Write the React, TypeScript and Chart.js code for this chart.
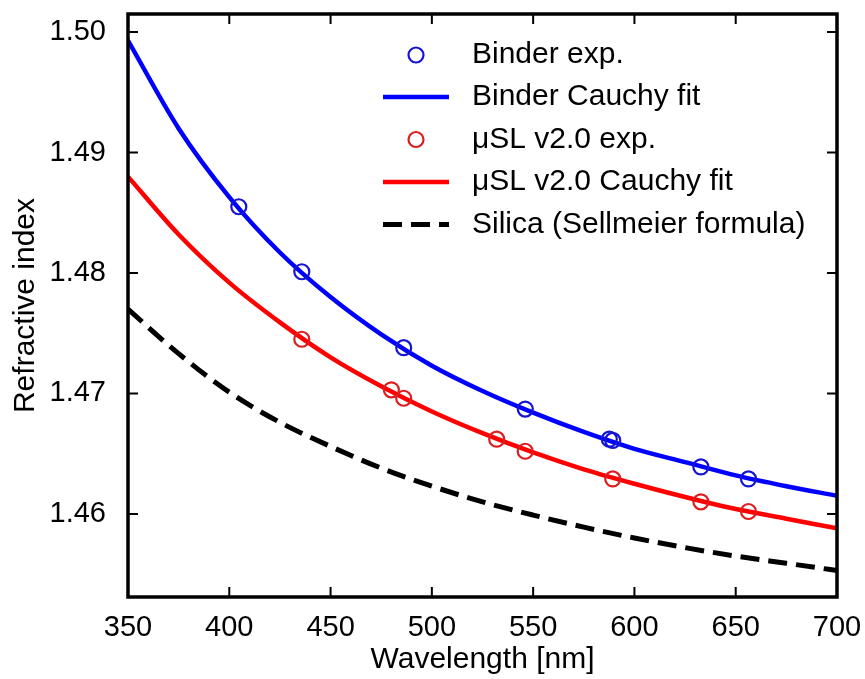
import React, { useEffect, useRef } from "react";
import { Chart, registerables } from "chart.js";

Chart.register(...registerables);

// ---- Data ----
const fitWavelengths = [350, 375, 400, 425, 450, 475, 500, 525, 550, 575, 600, 625, 650, 675, 700];
const binderFit = [1.4993, 1.4920, 1.4863, 1.4817, 1.4780, 1.4749, 1.4723, 1.4702, 1.4684, 1.4668, 1.4654, 1.4643, 1.4632, 1.4623, 1.4615];
const uslFit = [1.4880, 1.4832, 1.4792, 1.4759, 1.4730, 1.4706, 1.4685, 1.4667, 1.4651, 1.4637, 1.4625, 1.4614, 1.4604, 1.4596, 1.4588];
const silicaSellmeier = [1.4770, 1.4733, 1.4701, 1.4676, 1.4656, 1.4638, 1.4623, 1.4610, 1.4599, 1.4589, 1.4580, 1.4572, 1.4565, 1.4559, 1.4553];

const binderExpWavelengths = [404.7, 435.8, 486.1, 546.1, 587.6, 589.3, 632.8, 656.3];
const binderExpIndex = [1.4855, 1.4801, 1.4738, 1.4687, 1.4662, 1.4661, 1.4639, 1.4629];
const uslExpWavelengths = [435.8, 480.0, 486.1, 532.0, 546.1, 589.3, 632.8, 656.3];
const uslExpIndex = [1.4745, 1.4703, 1.4696, 1.4662, 1.4652, 1.4629, 1.4610, 1.4602];

const xTickValues = [350, 400, 450, 500, 550, 600, 650, 700];
const yTickValues = [1.46, 1.47, 1.48, 1.49, 1.50];

const seriesLabels = [
  "Binder exp.",
  "Binder Cauchy fit",
  "\u03bcSL v2.0 exp.",
  "\u03bcSL v2.0 Cauchy fit",
  "Silica (Sellmeier formula)",
];

const FONT = "'Liberation Sans', Arial, Helvetica, sans-serif";

const toXY = (xs: number[], ys: number[]) => xs.map((x, i) => ({ x, y: ys[i] }));

const zeroPad = (s: any) => {
  s.paddingTop = 0;
  s.paddingBottom = 0;
  s.paddingLeft = 0;
  s.paddingRight = 0;
};

const framePlugin = {
  id: "frameTicks",
  afterDatasetsDraw(chart: any) {
    const { ctx, chartArea: a, scales } = chart;
    const L = 10;
    ctx.save();
    ctx.strokeStyle = "#000";
    ctx.lineWidth = 2;
    ctx.beginPath();
    xTickValues.forEach((v) => {
      const px = scales.x.getPixelForValue(v);
      ctx.moveTo(px, a.bottom);
      ctx.lineTo(px, a.bottom - L);
      ctx.moveTo(px, a.top);
      ctx.lineTo(px, a.top + L);
    });
    yTickValues.forEach((v) => {
      const py = scales.y.getPixelForValue(v);
      ctx.moveTo(a.left, py);
      ctx.lineTo(a.left + L, py);
      ctx.moveTo(a.right, py);
      ctx.lineTo(a.right - L, py);
    });
    ctx.stroke();
    ctx.lineWidth = 3.5;
    ctx.strokeRect(a.left, a.top, a.right - a.left, a.bottom - a.top);
    ctx.restore();
  },
};

const legendPlugin = {
  id: "insideLegend",
  afterDraw(chart: any) {
    const { ctx } = chart;
    const ds = chart.data.datasets;
    const symX = 416;
    const lineX0 = 383;
    const lineX1 = 449;
    const textX = 472;
    const rows = [55, 97, 139.5, 182, 224.5];
    ctx.save();
    ds.forEach((d: any, i: number) => {
      const y = rows[i];
      if (d.showLine === false) {
        ctx.beginPath();
        ctx.strokeStyle = d.borderColor;
        ctx.lineWidth = d.borderWidth;
        ctx.arc(symX, y, d.pointRadius, 0, Math.PI * 2);
        ctx.stroke();
      } else {
        ctx.beginPath();
        ctx.strokeStyle = d.borderColor;
        ctx.lineWidth = d.borderWidth;
        ctx.setLineDash(d.borderDash || []);
        ctx.lineCap = "butt";
        ctx.moveTo(lineX0, y);
        ctx.lineTo(lineX1, y);
        ctx.stroke();
        ctx.setLineDash([]);
      }
      ctx.fillStyle = "#000";
      ctx.font = `30px ${FONT}`;
      ctx.textBaseline = "middle";
      ctx.textAlign = "left";
      ctx.fillText(d.label, textX, y);
    });
    ctx.restore();
  },
};

export default function App() {
  const canvasRef = useRef<HTMLCanvasElement | null>(null);

  useEffect(() => {
    if (!canvasRef.current) return;
    const chart = new Chart(canvasRef.current, {
      type: "line",
      data: {
        datasets: [
          {
            label: seriesLabels[0],
            data: toXY(binderExpWavelengths, binderExpIndex),
            showLine: false,
            borderColor: "#1414d2",
            backgroundColor: "rgba(0,0,0,0)",
            pointRadius: 7.5,
            pointHoverRadius: 7.5,
            pointBorderWidth: 2.2,
            borderWidth: 2.2,
            order: 1,
          },
          {
            label: seriesLabels[1],
            data: toXY(fitWavelengths, binderFit),
            borderColor: "#0000ff",
            borderWidth: 4.5,
            pointRadius: 0,
            cubicInterpolationMode: "monotone",
            order: 3,
          },
          {
            label: seriesLabels[2],
            data: toXY(uslExpWavelengths, uslExpIndex),
            showLine: false,
            borderColor: "#dc1e1e",
            backgroundColor: "rgba(0,0,0,0)",
            pointRadius: 7.5,
            pointHoverRadius: 7.5,
            pointBorderWidth: 2.2,
            borderWidth: 2.2,
            order: 2,
          },
          {
            label: seriesLabels[3],
            data: toXY(fitWavelengths, uslFit),
            borderColor: "#ff0000",
            borderWidth: 4.5,
            pointRadius: 0,
            cubicInterpolationMode: "monotone",
            order: 4,
          },
          {
            label: seriesLabels[4],
            data: toXY(fitWavelengths, silicaSellmeier),
            borderColor: "#000000",
            borderWidth: 5,
            borderDash: [19, 9],
            borderCapStyle: "butt",
            pointRadius: 0,
            cubicInterpolationMode: "monotone",
            order: 5,
          },
        ],
      } as any,
      options: {
        animation: false,
        responsive: true,
        maintainAspectRatio: false,
        layout: { padding: { left: 0, top: 14, right: 28, bottom: 0 } },
        plugins: { legend: { display: false }, tooltip: { enabled: false } },
        events: [],
        scales: {
          x: {
            type: "linear",
            min: 350,
            max: 700,
            afterBuildTicks: (s: any) => {
              s.ticks = xTickValues.map((v) => ({ value: v }));
            },
            afterFit: (s: any) => {
              s.height = 82;
              zeroPad(s);
            },
            grid: { display: false, drawTicks: false },
            border: { display: false },
            ticks: {
              color: "#000",
              font: { family: FONT, size: 29 },
              padding: 14,
              maxRotation: 0,
              autoSkip: false,
            },
            title: {
              display: true,
              text: "Wavelength [nm]",
              color: "#000",
              font: { family: FONT, size: 30 },
              padding: { top: 0, bottom: 1 },
            },
          },
          y: {
            type: "linear",
            min: 1.4531,
            max: 1.5015,
            afterBuildTicks: (s: any) => {
              s.ticks = yTickValues.map((v) => ({ value: v }));
            },
            afterFit: (s: any) => {
              s.width = 128;
              zeroPad(s);
            },
            grid: { display: false, drawTicks: false },
            border: { display: false },
            ticks: {
              color: "#000",
              font: { family: FONT, size: 29 },
              padding: 22,
              callback: (v: any) => Number(v).toFixed(2),
            },
            title: {
              display: true,
              text: "Refractive index",
              color: "#000",
              font: { family: FONT, size: 30 },
              padding: { top: 8, bottom: 0 },
            },
          },
        },
      } as any,
      plugins: [framePlugin, legendPlugin],
    });
    return () => chart.destroy();
  }, []);

  return (
    <div style={{ position: "absolute", left: 0, top: 0, width: 865, height: 679, background: "#fff" }}>
      <canvas ref={canvasRef} />
    </div>
  );
}
